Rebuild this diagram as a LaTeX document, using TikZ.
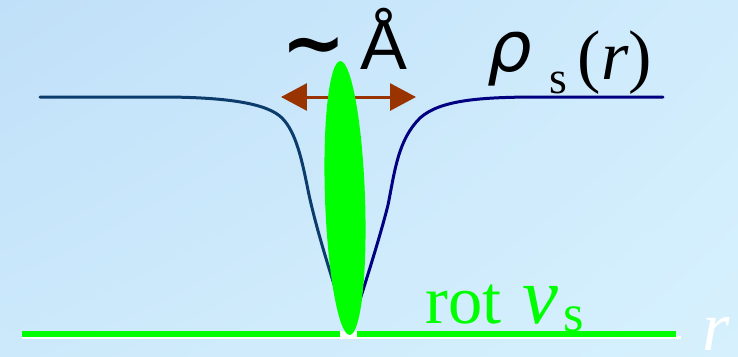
\documentclass[tikz,border=0pt]{standalone}
\usepackage{fontspec}
\setmainfont{Liberation Serif}
\newfontfamily\arialfont{Liberation Sans}
\newfontfamily\symfont{DejaVu Sans}
\usetikzlibrary{arrows.meta, shadings}

\definecolor{bgtl}{HTML}{C0E0F9}
\definecolor{bgtr}{HTML}{D0ECFC}
\definecolor{bgbl}{HTML}{CCE9FB}
\definecolor{bgbr}{HTML}{D6F0FD}
\definecolor{coregreen}{HTML}{00FF00}
\definecolor{densteal}{HTML}{0B3C6C}
\definecolor{densnavy}{HTML}{000080}
\definecolor{scalebrown}{HTML}{993300}

\begin{document}
\begin{tikzpicture}[x=0.02cm, y=-0.02cm, >={Triangle[length=0.52cm, width=0.54cm]}]

% Estilos de la figura
\tikzset{
    densityline/.style={line width=0.06cm, line cap=round},
    flowline/.style={draw=coregreen, line width=0.12cm},
    scalearrow/.style={<->, draw=scalebrown, fill=scalebrown, line width=0.06cm},
    corefill/.style={fill=coregreen}
}

% =============================================
% FONDO
% =============================================
\shade[upper left=bgtl, upper right=bgtr, lower left=bgbl, lower right=bgbr]
    (0,0) rectangle (738,356);
\useasboundingbox (0,0) rectangle (738,356);

% =============================================
% EJE r Y LINEA DE ROTACIONAL
% =============================================
\fill[white] (22,336) rectangle (681,338.5);
\fill[white] (340,331) rectangle (357,338.5);
\draw[flowline] (22,334) -- (340,334);
\draw[flowline] (357,334) -- (676,334);

% =============================================
% DENSIDAD SUPERFLUIDA rho_s(r)
% =============================================
\draw[densityline, draw=densteal] (40,97) -- (160,97)
    .. controls (230,97) and (268,104) .. (282,118)
    .. controls (296,132) and (302,160) .. (308,190)
    .. controls (314,220) and (330,275) .. (350,332);
\draw[densityline, draw=densnavy] (350,332)
    .. controls (358,305) and (378,245) .. (388,205)
    .. controls (395,170) and (398,140) .. (420,118)
    .. controls (440,100) and (480,97) .. (540,97) -- (663,97);

% Flecha de escala
\coordinate (scaleL) at (281,97);
\coordinate (scaleR) at (416,97);
\draw[scalearrow] (scaleL) -- (scaleR);

% Nucleo del vortice
\fill[corefill, rotate around={2:(345,198)}] (345,198) ellipse [x radius=20, y radius=137];

% =============================================
% ETIQUETAS
% =============================================
\node[anchor=base west, inner sep=0pt] (size) at (281,69)
    {{\symfont\bfseries\fontsize{44}{44}\selectfont ∼}\hspace{8pt}{\arialfont\fontsize{40}{40}\selectfont Å}};

\node[anchor=base west, inner sep=0pt, font=\fontsize{40}{40}\selectfont] (rhos) at (487,79)
    {\raisebox{4pt}{\symfont\itshape\fontsize{40}{40}\selectfont ρ}\hspace{10pt}\raisebox{-8pt}{\fontsize{26}{26}\selectfont s}\hspace{6pt}(\textit{r})};

\node[anchor=base west, inner sep=0pt, text=coregreen] (rotv) at (425,323)
    {\fontsize{39}{39}\selectfont rot\hspace{12pt}{\fontsize{46}{46}\selectfont\itshape v}\hspace{3pt}\raisebox{-5pt}{\fontsize{30}{30}\selectfont s}};

\node[anchor=base west, inner sep=0pt, text=white, font=\fontsize{40}{40}\selectfont\itshape] (raxis) at (702,350) {r};

\end{tikzpicture}
\end{document}
